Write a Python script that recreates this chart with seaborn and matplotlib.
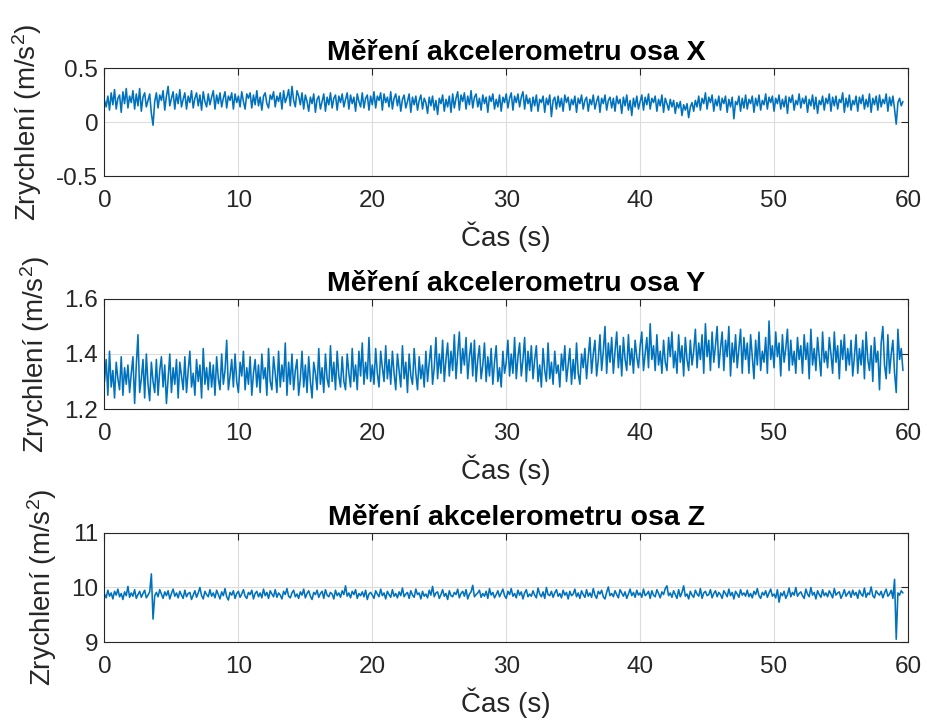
import numpy as np
import pandas as pd
import matplotlib
matplotlib.use("Agg")
import matplotlib.pyplot as plt
import seaborn as sns

# sample step of the values below (s)
dt = 0.125

# acceleration in hundredths of m/s^2, 16 samples per row (2 s)
acc_x = [
    20, 14, 24, 11, 27, 16, 30, 12, 22, 25, 9, 28, 17, 31, 13, 24,
    18, 29, 12, 26, 15, 31, 10, 23, 27, 14, 20, 26, 8, -3, 19, 27,
    13, 25, 20, 29, 11, 24, 33, 15, 22, 28, 12, 26, 17, 30, 14, 21,
    27, 12, 24, 18, 29, 13, 22, 27, 15, 25, 11, 28, 19, 14, 26, 16,
    23, 29, 12, 25, 17, 27, 14, 22, 28, 13, 24, 20, 27, 12, 26, 18,
    24, 14, 28, 19, 12, 26, 22, 27, 13, 25, 16, 29, 15, 23, 11, 24,
    27, 17, 13, 25, 21, 28, 14, 24, 19, 27, 12, 29, 18, 23, 30, 15,
    33, 20, 14, 29, 24, 16, 27, 12, 25, 19, 10, 23, 17, 26, 9, 21,
    24, 12, 19, 26, 10, 23, 16, 27, 13, 22, 25, 11, 24, 18, 26, 14,
    21, 27, 12, 25, 17, 23, 10, 26, 19, 14, 27, 13, 22, 25, 11, 24,
    16, 28, 13, 24, 20, 27, 11, 26, 18, 23, 14, 28, 12, 22, 26, 15,
    24, 10, 21, 25, 13, 19, 26, 9, 23, 16, 24, 11, 20, 25, 12, 22,
    18, 8, 23, 15, 24, 11, 20, 7, 22, 17, 25, 10, 21, 14, 24, 9,
    26, 13, 22, 28, 11, 25, 19, 27, 12, 24, 16, 29, 13, 23, 26, 14,
    22, 11, 25, 17, 23, 9, 24, 19, 26, 12, 21, 14, 25, 10, 23, 18,
    26, 13, 22, 27, 11, 24, 18, 26, 14, 23, 28, 12, 25, 17, 22, 10,
    23, 15, 25, 10, 21, 18, 24, 9, 22, 16, 25, 5, 20, 23, 12, 24,
    14, 22, 10, 25, 18, 23, 11, 21, 16, 24, 9, 22, 17, 25, 12, 20,
    23, 10, 21, 16, 25, 12, 19, 24, 9, 22, 17, 25, 11, 20, 23, 13,
    22, 10, 24, 17, 21, 8, 23, 15, 25, 11, 20, 6, 22, 14, 24, 12,
    19, 25, 11, 23, 16, 26, 12, 22, 18, 24, 10, 21, 15, 25, 9, 22,
    17, 11, 21, 14, 20, 8, 18, 13, 19, 6, 16, 11, 17, 4, 14, 18,
    10, 20, 14, 24, 11, 22, 17, 27, 12, 23, 18, 25, 10, 21, 15, 24,
    11, 22, 17, 24, 9, 21, 14, 23, 3, 19, 16, 24, 10, 22, 13, 25,
    12, 21, 17, 24, 9, 22, 15, 25, 11, 20, 16, 26, 12, 23, 18, 24,
    10, 22, 17, 25, 12, 21, 14, 24, 8, 23, 18, 25, 11, 20, 16, 26,
    13, 22, 17, 24, 9, 21, 15, 25, 12, 23, 8, 20, 16, 24, 11, 22,
    17, 26, 10, 23, 15, 24, 12, 21, 18, 27, 9, 22, 14, 25, 11, 20,
    16, 24, 10, 23, 17, 25, 12, 21, 14, 26, 9, 22, 16, 24, 11, 25,
    14, 21, 17, 26, 10, 23, 15, 24, 12, -2, 18, 22, 15, 19,
]

acc_y = [
    130, 138, 125, 141, 128, 134, 124, 137, 131, 127, 139, 125, 135, 129, 136, 126,
    133, 139, 122, 136, 147, 126, 131, 138, 124, 140, 129, 123, 137, 130, 126, 138,
    125, 134, 139, 128, 136, 122, 131, 140, 126, 135, 129, 138, 124, 137, 132, 127,
    139, 126, 134, 141, 128, 133, 125, 138, 130, 136, 124, 142, 129, 135, 127, 137,
    128, 136, 125, 139, 131, 127, 140, 129, 134, 145, 127, 132, 138, 128, 140, 130,
    126, 137, 132, 141, 127, 135, 129, 139, 125, 133, 138, 128, 136, 126, 140, 131,
    135, 125, 142, 130, 127, 139, 133, 126, 141, 128, 136, 130, 144, 125, 137, 129,
    140, 127, 134, 138, 125, 131, 141, 128, 136, 126, 139, 130, 124, 137, 133, 127,
    142, 129, 135, 126, 140, 131, 128, 143, 130, 137, 127, 141, 132, 128, 139, 130,
    127, 140, 133, 128, 142, 130, 136, 127, 141, 132, 144, 129, 137, 131, 146, 130,
    136, 129, 142, 133, 128, 141, 135, 130, 143, 131, 138, 129, 141, 133, 127, 140,
    134, 128, 143, 131, 137, 126, 140, 132, 129, 142, 133, 127, 139, 131, 136, 128,
    141, 130, 137, 143, 129, 135, 146, 131, 140, 133, 145, 130, 138, 144, 132, 141,
    134, 147, 131, 140, 148, 133, 142, 136, 146, 131, 139, 144, 132, 145, 130, 138,
    143, 131, 136, 144, 130, 139, 132, 142, 129, 137, 143, 130, 135, 128, 141, 133,
    137, 145, 132, 140, 133, 146, 131, 139, 144, 132, 138, 146, 130, 141, 134, 143,
    131, 138, 143, 130, 136, 128, 142, 134, 130, 144, 131, 137, 129, 141, 133, 136,
    128, 140, 134, 143, 130, 136, 142, 129, 138, 131, 144, 133, 129, 140, 135, 142,
    131, 139, 146, 133, 140, 145, 132, 138, 147, 134, 141, 150, 133, 144, 137, 146,
    133, 141, 148, 135, 143, 132, 146, 138, 134, 147, 136, 142, 133, 145, 139, 135,
    143, 148, 134, 140, 146, 135, 151, 138, 143, 134, 147, 136, 141, 133, 145, 137,
    134, 146, 139, 148, 135, 141, 133, 147, 137, 143, 132, 146, 138, 134, 145, 136,
    141, 149, 135, 144, 138, 147, 133, 151, 139, 145, 134, 148, 137, 143, 150, 135,
    142, 148, 134, 145, 139, 150, 132, 144, 137, 147, 135, 142, 149, 133, 146, 138,
    144, 133, 147, 139, 131, 145, 136, 148, 134, 141, 137, 146, 133, 152, 138, 143,
    135, 148, 139, 144, 132, 147, 137, 142, 149, 134, 145, 136, 141, 133, 146, 138,
    143, 133, 147, 138, 144, 131, 149, 136, 142, 134, 146, 139, 132, 148, 137, 141,
    135, 146, 140, 133, 148, 137, 143, 131, 145, 138, 147, 134, 142, 136, 145, 132,
    139, 147, 133, 142, 136, 145, 131, 148, 138, 134, 143, 130, 146, 137, 141, 127,
    144, 150, 136, 131, 147, 133, 140, 145, 133, 126, 149, 138, 142, 134,
]

acc_z = [
    988, 981, 995, 984, 990, 979, 993, 986, 997, 983, 989, 978, 992, 985, 1002, 982,
    990, 984, 996, 980, 987, 993, 982, 989, 995, 981, 986, 992, 1025, 942, 985, 991,
    983, 996, 988, 980, 992, 985, 994, 979, 989, 997, 984, 990, 981, 993, 986, 980,
    995, 983, 989, 991, 978, 986, 994, 982, 990, 1000, 985, 979, 993, 987, 983, 996,
    984, 990, 981, 995, 987, 979, 992, 985, 998, 983, 977, 991, 986, 994, 980, 989,
    993, 982, 988, 996, 984, 980, 991, 987, 995, 979, 989, 993, 983, 990, 981, 997,
    985, 991, 980, 994, 988, 983, 996, 982, 990, 986, 979, 993, 987, 998, 984, 981,
    990, 995, 983, 988, 980, 992, 986, 997, 981, 989, 994, 984, 978, 991, 987, 995,
    982, 989, 993, 980, 996, 986, 983, 991, 988, 979, 995, 985, 990, 982, 994, 987,
    1003, 984, 990, 981, 993, 987, 996, 980, 989, 985, 992, 983, 995, 978, 988, 991,
    986, 980, 994, 988, 983, 997, 985, 990, 979, 993, 987, 982, 996, 984, 989, 981,
    992, 985, 999, 983, 988, 991, 980, 994, 986, 982, 997, 987, 990, 979, 993, 984,
    988, 981, 995, 986, 1002, 983, 990, 992, 980, 987, 996, 984, 989, 978, 994, 985,
    983, 991, 987, 997, 981, 989, 993, 984, 996, 979, 988, 992, 1004, 983, 987, 990,
    995, 982, 989, 984, 993, 980, 998, 986, 991, 981, 987, 994, 983, 990, 997, 985,
    980, 993, 987, 998, 984, 989, 981, 995, 986, 992, 979, 990, 996, 983, 988, 984,
    994, 986, 981, 999, 988, 983, 992, 980, 1000, 987, 985, 993, 982, 990, 996, 984,
    989, 981, 995, 986, 991, 979, 993, 985, 988, 997, 983, 990, 980, 994, 987, 982,
    996, 984, 990, 982, 998, 986, 980, 993, 988, 995, 983, 979, 991, 1001, 985, 989,
    983, 994, 987, 981, 996, 990, 984, 992, 980, 988, 997, 985, 991, 982, 995, 986,
    990, 982, 997, 985, 988, 993, 980, 994, 986, 983, 996, 989, 981, 992, 987, 998,
    1003, 985, 990, 982, 994, 987, 980, 996, 983, 991, 1003, 984, 988, 979, 993, 986,
    982, 995, 988, 984, 998, 980, 990, 993, 985, 987, 996, 981, 989, 994, 983, 991,
    987, 980, 994, 989, 983, 997, 985, 991, 979, 993, 988, 982, 996, 986, 990, 984,
    995, 983, 989, 981, 993, 987, 998, 985, 980, 991, 986, 994, 982, 990, 997, 984,
    988, 981, 996, 973, 990, 985, 993, 980, 987, 999, 983, 991, 986, 1000, 984, 989,
    992, 985, 980, 997, 988, 983, 1000, 986, 991, 979, 994, 987, 982, 996, 985, 990,
    983, 994, 988, 981, 998, 986, 990, 992, 980, 987, 996, 984, 989, 993, 982, 995,
    986, 991, 980, 995, 988, 984, 999, 982, 990, 987, 1001, 985, 981, 994, 989, 986,
    993, 981, 990, 997, 984, 988, 995, 980, 1015, 905, 990, 986, 994, 990,
]

titles = ["Měření akcelerometru osa X", "Měření akcelerometru osa Y",
          "Měření akcelerometru osa Z"]
y_limits = [(-0.5, 0.5), (1.2, 1.6), (9, 11)]
y_ticks = [[-0.5, 0, 0.5], [1.2, 1.4, 1.6], [9, 10, 11]]
y_ticklabels = [["-0.5", "0", "0.5"], ["1.2", "1.4", "1.6"], ["9", "10", "11"]]
x_ticks = [0, 10, 20, 30, 40, 50, 60]

sns.set_style("white")
plt.rcParams['font.family'] = ['Liberation Sans', 'DejaVu Sans']
plt.rcParams['mathtext.fontset'] = 'custom'
plt.rcParams['mathtext.rm'] = 'Liberation Sans'
plt.rcParams['mathtext.it'] = 'Liberation Sans'

fig = plt.figure(figsize=(9.28, 7.22), dpi=100)
# axes boxes in figure fractions (left, bottom, width, height)
boxes = [[0.1126, 0.7562, 0.8658, 0.1496],
         [0.1126, 0.4335, 0.8658, 0.1524],
         [0.1126, 0.1108, 0.8658, 0.1510]]

edge = '#262626'
for i, values in enumerate([acc_x, acc_y, acc_z]):
    ax = fig.add_axes(boxes[i])
    df = pd.DataFrame({'t': np.arange(len(values)) * dt,
                       'a': np.array(values) / 100})
    sns.lineplot(data=df, x='t', y='a', ax=ax, color='#0072BD',
                 linewidth=1.15, estimator=None)
    ax.set_xlim(0, 60)
    ax.set_ylim(*y_limits[i])
    ax.set_xticks(x_ticks)
    ax.set_yticks(y_ticks[i])
    ax.set_yticklabels(y_ticklabels[i])
    ax.grid(True, color='#dcdcdc', linewidth=0.8)
    ax.set_axisbelow(True)
    ax.tick_params(direction='in', length=5, width=0.8, colors=edge,
                   labelsize=17.5, top=True, right=True, labelcolor=edge)
    ax.tick_params(axis='x', pad=10)
    ax.tick_params(axis='y', pad=4.5)
    for s in ax.spines.values():
        s.set_color(edge)
        s.set_linewidth(0.8)
    ax.set_title(titles[i], fontsize=20.5, fontweight='bold', pad=6,
                 color='black', x=0.5125)
    ax.set_xlabel('Čas (s)', fontsize=20, color=edge, labelpad=7)
    ax.set_ylabel('Zrychlení (m/s$^2$)', fontsize=20, color=edge, labelpad=9)

plt.savefig('out.png', dpi=100)
